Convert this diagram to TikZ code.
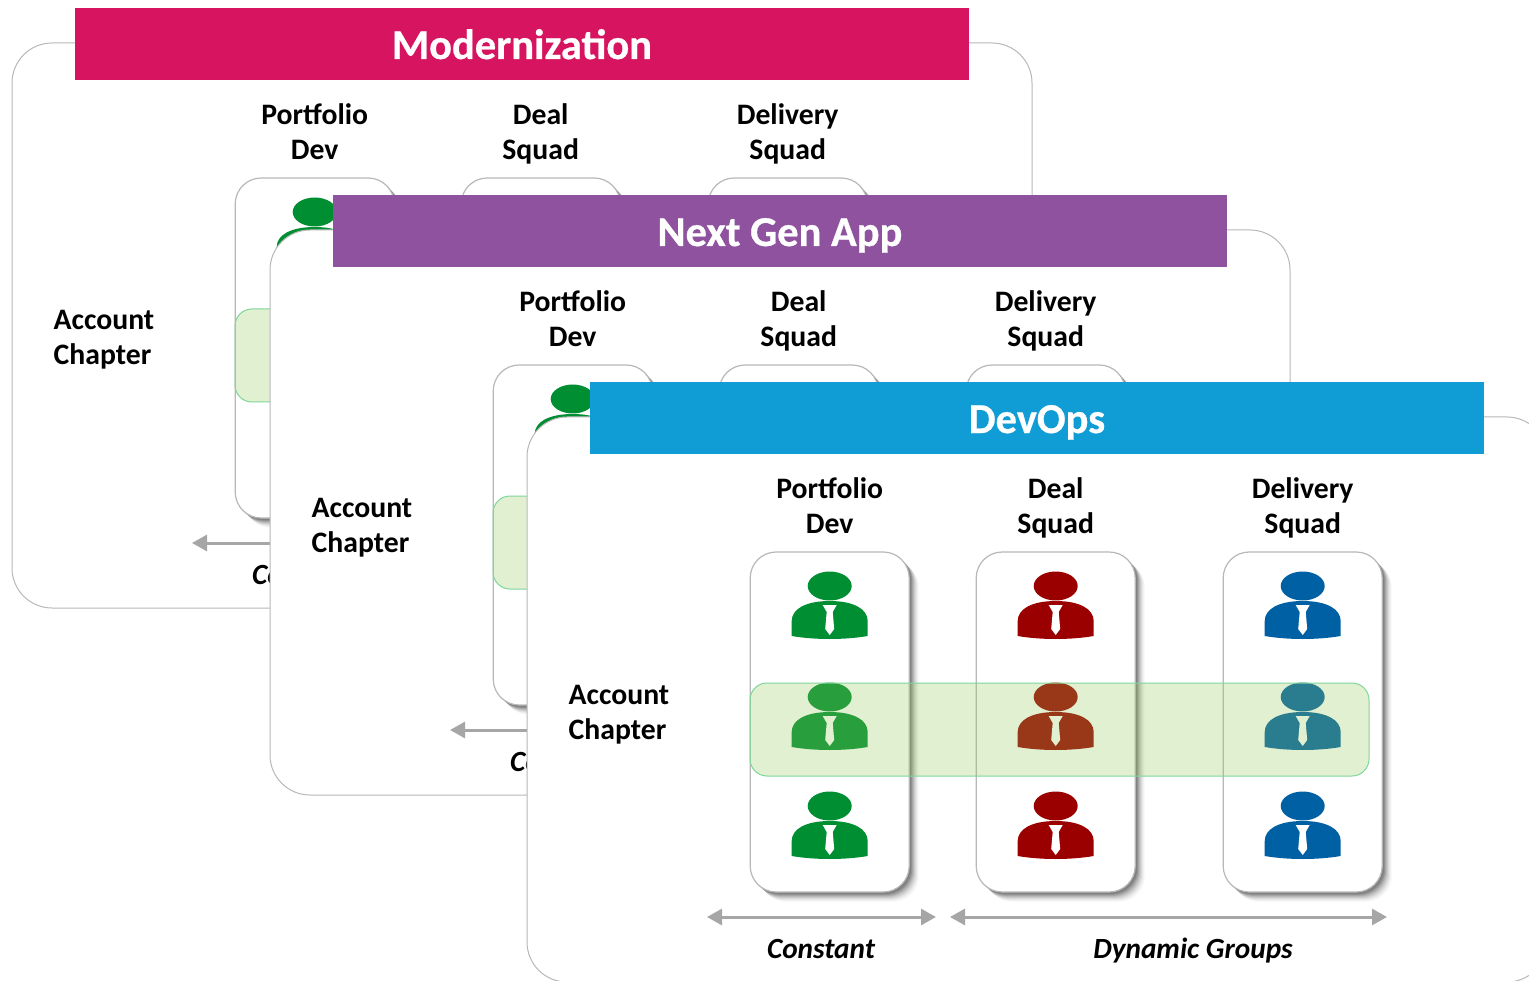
\documentclass[tikz,border=0pt]{standalone}
\usepackage{fontspec}
\setmainfont{Carlito}
\usepackage{tikz}
\usetikzlibrary{positioning,shadows,arrows.meta}

\definecolor{modernpink}{HTML}{D7145F}
\definecolor{nextpurple}{HTML}{8E529E}
\definecolor{devopsblue}{HTML}{109CD4}
\definecolor{devgreen}{HTML}{008E32}
\definecolor{dealred}{HTML}{9B0000}
\definecolor{delblue}{HTML}{0060A4}
\definecolor{edgegray}{HTML}{B8B8B8}
\definecolor{spangray}{HTML}{A6A6A6}
\definecolor{bandgreen}{HTML}{94CB5A}
\definecolor{bandedge}{HTML}{7FD69B}

\tikzset{
    softshade/.style 2 args={drop shadow={shadow xshift=#1pt, shadow yshift=-#1pt, opacity=#2, fill=black}},
    panel/.style={draw=edgegray, line width=1pt, fill=white, rounded corners=40pt, minimum width=1020pt, minimum height=565pt, outer sep=0pt},
    banner/.style={text=white, font=\fontsize{42.5}{42.5}\selectfont\bfseries\addfontfeature{FakeBold=0.6}, minimum width=894pt, minimum height=72pt, outer sep=0pt, text height=32pt, text depth=2pt},
    colcard/.style={draw=edgegray, line width=1.2pt, fill=white, rounded corners=26pt, minimum width=159pt, minimum height=340pt, outer sep=0pt,
        softshade={10}{.02}, softshade={9}{.03}, softshade={8}{.04}, softshade={7}{.05}, softshade={6}{.07}, softshade={5}{.08}, softshade={4}{.1}, softshade={3}{.12}, softshade={2}{.12}},
    colhead/.style={font=\fontsize{29.7}{35}\selectfont\bfseries, align=center, inner sep=0pt},
    rowhead/.style={font=\fontsize{29.7}{35}\selectfont\bfseries, align=left, inner sep=0pt},
    spanlabel/.style={font=\fontsize{29.3}{35}\selectfont\bfseries\itshape, inner sep=0pt, anchor=base},
    chapterband/.style={draw=bandedge, line width=1pt, fill=bandgreen, fill opacity=.28, rounded corners=17pt, minimum width=619pt, minimum height=93pt, outer sep=0pt},
    span/.style={draw=spangray, line width=3pt, {Triangle[length=15pt,width=16pt]}-{Triangle[length=15pt,width=16pt]}},
    person/.pic={
        \path[pic actions] (0,15) ellipse [x radius=22, y radius=14.5];
        \path[pic actions] (-38,65) -- (-38,50) .. controls (-38,38) and (-24,30) .. (0,30) .. controls (24,30) and (38,38) .. (38,50) -- (38,65) .. controls (15,69) and (-15,69) .. (-38,65) -- cycle;
        \fill[white] (-7,34) -- (7,34) -- (3,41) -- (4.5,58) -- (0,64) -- (-4.5,58) -- (-3,41) -- cycle;
    }
}

% one whole slide of the stack
\newcommand{\slidepanel}[5]{
    \begin{scope}[shift={(#1,#2)}, name prefix=#5-]
        \node[panel] (frame) at (522,325.5) {};
        \node[banner, fill=#3] (title) at (522,44) {#4};
        \node[colcard] (dev) at (314.7,348) {};
        \node[colcard, right=67pt of dev] (deal) {};
        \node[colcard, right=88pt of deal] (del) {};
        \node[colhead, above=7.5pt of dev] (devhead) {Portfolio\strut\\Dev\strut};
        \node[colhead, above=7.5pt of deal] (dealhead) {Deal\strut\\Squad\strut};
        \node[colhead, above=7.5pt of del] (delhead) {Delivery\strut\\Squad\strut};
        \foreach \col/\tint in {dev/devgreen, deal/dealred, del/delblue}
            \foreach \row in {19,130,239}
                \pic[fill=\tint] at ([yshift=-\row pt]\col.north) {person};
        \node[chapterband] (band) at (544.5,355.5) {};
        \node[rowhead, anchor=west] (chapter) at (53.5,340.5) {Account\strut\\Chapter\strut};
        \coordinate (conleft) at (192,543);
        \coordinate (conright) at (421,543);
        \coordinate (dynleft) at (435,543);
        \coordinate (dynright) at (872,543);
        \draw[span] (conleft) -- (conright);
        \draw[span] (dynleft) -- (dynright);
        \node[spanlabel] (constant) at (306,584) {Constant};
        \node[spanlabel] (dynamic) at (678,584) {Dynamic Groups};
    \end{scope}
}

\begin{document}
\begin{tikzpicture}[x=1pt, y=-1pt]
    \useasboundingbox (0,0) rectangle (1529,981);
    \clip (0,0) rectangle (1529,981);
    \slidepanel{0}{0}{modernpink}{Modernization}{modern}
    \slidepanel{258}{187}{nextpurple}{Next Gen App}{next}
    \slidepanel{515}{374}{devopsblue}{DevOps}{devops}
\end{tikzpicture}
\end{document}
